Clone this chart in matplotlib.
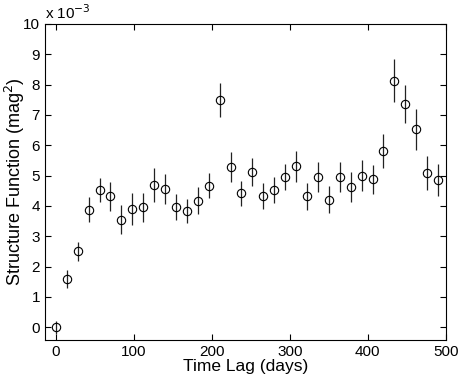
import numpy as np
import matplotlib.pyplot as plt

plt.rcParams['font.family'] = ['Liberation Sans', 'DejaVu Sans']

# time lag bins (days) and structure function (units of 1e-3 mag^2)
lag = np.arange(0, 491, 14)
sf = [0.00, 1.60, 2.51, 3.88, 4.53, 4.31, 3.55, 3.89, 3.95, 4.69,
      4.56, 3.97, 3.84, 4.17, 4.67, 7.50, 5.29, 4.41, 5.12, 4.33,
      4.52, 4.96, 5.30, 4.31, 4.96, 4.20, 4.95, 4.63, 5.00, 4.88,
      5.81, 8.13, 7.35, 6.52, 5.09, 4.85]
err = [0.22, 0.29, 0.31, 0.40, 0.40, 0.49, 0.47, 0.52, 0.47, 0.55,
       0.50, 0.42, 0.40, 0.44, 0.40, 0.56, 0.50, 0.40, 0.47, 0.42,
       0.42, 0.43, 0.50, 0.44, 0.50, 0.44, 0.50, 0.49, 0.50, 0.48,
       0.57, 0.70, 0.62, 0.67, 0.56, 0.54]

fig = plt.figure(figsize=(4.63, 3.78), dpi=100)
ax = fig.add_axes([0.097, 0.1005, 0.866, 0.8365])

ax.errorbar(lag, sf, yerr=err, fmt='o', mfc='none', mec='black', ms=6,
            mew=0.8, ecolor='#222222', elinewidth=0.9, capsize=0)

ax.set_xlim(-14, 500)
ax.set_ylim(-0.42, 10)
ax.set_xticks(np.arange(0, 501, 100))
ax.set_yticks(np.arange(0, 11, 1))
ax.tick_params(direction='in', top=True, right=True, labelsize=11, length=4)
for s in ax.spines.values():
    s.set_linewidth(0.8)

ax.set_xlabel('Time Lag (days)', fontsize=12.5, labelpad=0)
ax.set_ylabel('Structure Function (mag$^2$)', fontsize=13)
ax.yaxis.set_label_coords(-0.045, 0.5)
ax.text(0.0, 1.005, r'x 10$^{-3}$', transform=ax.transAxes, fontsize=11,
        ha='left', va='bottom')

fig.savefig('out.png', dpi=100)
